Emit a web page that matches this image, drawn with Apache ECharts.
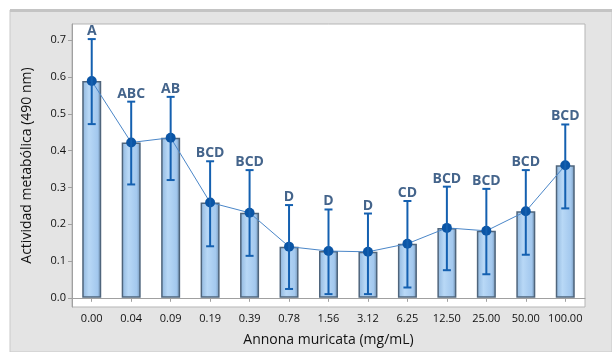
<!DOCTYPE html>
<html><head><meta charset="utf-8">
<script src="https://cdn.jsdelivr.net/npm/echarts@6/dist/echarts.min.js"></script>
<style>html,body{margin:0;padding:0;background:#fff}#c{width:612px;height:352px}</style>
</head><body><div id="c"></div>
<script>
const categories = ['0.00','0.04','0.09','0.19','0.39','0.78','1.56','3.12','6.25','12.50','25.00','50.00','100.00'];
const means = [0.589,0.422,0.435,0.259,0.231,0.139,0.127,0.125,0.147,0.190,0.182,0.235,0.360];
const errUpper = [0.703,0.533,0.546,0.371,0.347,0.252,0.240,0.229,0.263,0.302,0.296,0.347,0.471];
const errLower = [0.472,0.308,0.320,0.140,0.114,0.024,0.010,0.010,0.028,0.075,0.064,0.117,0.243];
const groups = ['A','ABC','AB','BCD','BCD','D','D','D','CD','BCD','BCD','BCD','BCD'];
const yTicks = [0.0,0.1,0.2,0.3,0.4,0.5,0.6,0.7];

const FONT = 'Open Sans';
const chart = echarts.init(document.getElementById('c'));
chart.setOption({
  backgroundColor: '#ffffff',
  animation: false,
  graphic: [
    {type:'rect', z:-10, shape:{x:10,y:10,width:602,height:342}, style:{fill:'#e4e4e4', stroke:'#c9c9c9', lineWidth:1}},
    {type:'rect', z:-9, shape:{x:10,y:9,width:602,height:3}, style:{fill:'#c4c4c4'}}
  ],
  grid: {left:72, top:24, width:513, height:283, show:true, backgroundColor:'#ffffff', borderColor:'#b5b5b5', borderWidth:1},
  xAxis: {
    type:'category', data:categories,
    axisLine:{show:true, lineStyle:{color:'#a0a0a0'}},
    axisTick:{show:true, alignWithLabel:true, interval:0, length:4, lineStyle:{color:'#a0a0a0'}},
    axisLabel:{color:'#111', fontFamily:FONT, fontSize:11, margin:6, interval:0},
    name:'Annona muricata (mg/mL)', nameLocation:'middle', nameGap:26,
    nameTextStyle:{color:'#111', fontFamily:FONT, fontSize:14}
  },
  yAxis: {
    type:'value', min:-0.025, max:0.744,
    splitLine:{show:false},
    axisLine:{show:true, lineStyle:{color:'#a0a0a0'}},
    axisTick:{show:true, length:4, lineStyle:{color:'#a0a0a0'}, customValues:yTicks},
    axisLabel:{color:'#111', fontFamily:FONT, fontSize:11, margin:6, customValues:yTicks, formatter:v=>v.toFixed(1)},
    name:'Actividad metabólica (490 nm)', nameLocation:'middle', nameGap:38,
    nameTextStyle:{color:'#111', fontFamily:FONT, fontSize:14}
  },
  series: [
    {
      type:'bar', data:means, barWidth:19, z:1,
      itemStyle:{
        color:{type:'linear', x:0,y:0,x2:1,y2:0, colorStops:[
          {offset:0,color:'#8fb6dd'},{offset:0.35,color:'#b8d8f6'},{offset:0.8,color:'#a3c8ee'},{offset:1,color:'#6f8fb0'}]},
        borderColor:'#4f657c', borderWidth:1.5
      }
    },
    {
      type:'line', data:means, z:3,
      lineStyle:{color:'#4a86c8', width:1},
      symbol:'circle', symbolSize:10,
      itemStyle:{color:'#0b55a5'}
    },
    {
      type:'custom', z:4,
      data: categories.map((c,i)=>[i, errLower[i], errUpper[i]]),
      renderItem: function(params, api){
        const x = api.value(0);
        const lo = api.coord([x, api.value(1)]);
        const hi = api.coord([x, api.value(2)]);
        const hw = 4;
        const st = {stroke:'#1460b0', lineWidth:2};
        return {type:'group', children:[
          {type:'line', shape:{x1:lo[0],y1:lo[1],x2:hi[0],y2:hi[1]}, style:st},
          {type:'line', shape:{x1:lo[0]-hw,y1:lo[1],x2:lo[0]+hw,y2:lo[1]}, style:st},
          {type:'line', shape:{x1:hi[0]-hw,y1:hi[1],x2:hi[0]+hw,y2:hi[1]}, style:st}
        ]};
      }
    },
    {
      type:'scatter', z:5, symbolSize:0,
      data: errUpper.map((v,i)=>({value:[i,v], label:{formatter:groups[i]}})),
      label:{show:true, position:'top', distance:1, color:'#153d6e', fontFamily:FONT, fontSize:14, fontWeight:'bold'}
    }
  ]
});
</script></body></html>
